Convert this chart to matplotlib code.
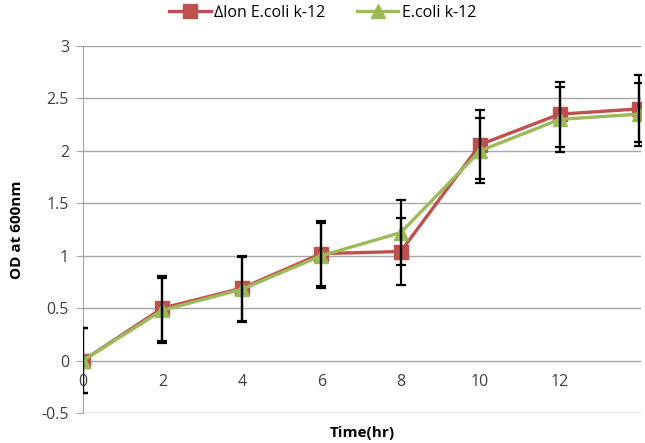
import matplotlib
matplotlib.use("Agg")
import matplotlib.pyplot as plt

plt.rcParams['font.family'] = ['Open Sans', 'DejaVu Sans']

# data
hours = [0, 2, 4, 6, 8, 10, 12, 14]
lon_od = [0.0, 0.50, 0.69, 1.02, 1.04, 2.06, 2.35, 2.40]
lon_err = [0.31, 0.31, 0.31, 0.31, 0.32, 0.33, 0.31, 0.32]
wt_od = [0.0, 0.48, 0.68, 1.00, 1.22, 2.00, 2.30, 2.35]
wt_err = [0.31, 0.31, 0.31, 0.31, 0.31, 0.31, 0.31, 0.30]
xtick_labels = ['0', '2', '4', '6', '8', '10', '12']
yticks = [-0.5, 0, 0.5, 1, 1.5, 2, 2.5, 3]

red = '#C0504D'
green = '#9BBB59'

fig = plt.figure(figsize=(6.45, 4.43), dpi=100)
ax = fig.add_axes([83/645, 1-413/443, (641-83)/645, (413-46)/443])

ax.plot(hours, lon_od, color=red, lw=2.4, marker='s', ms=10, label='\u2206lon E.coli k-12', zorder=3)
ax.plot(hours, wt_od, color=green, lw=2.4, marker='^', ms=10, label='E.coli k-12', zorder=4)
ax.errorbar(hours, lon_od, yerr=lon_err, fmt='none', ecolor='black', elinewidth=1.6, capsize=3.5, capthick=1.6, zorder=5)
ax.errorbar(hours, wt_od, yerr=wt_err, fmt='none', ecolor='black', elinewidth=1.6, capsize=3.5, capthick=1.6, zorder=5)

ax.set_xlim(0, 14.05)
ax.set_ylim(-0.5, 3)
ax.set_yticks(yticks)
ax.set_yticklabels(['-0.5', '0', '0.5', '1', '1.5', '2', '2.5', '3'])
ax.set_xticks(hours[:-1])
ax.set_xticklabels(xtick_labels)
ax.yaxis.grid(True, color='#A6A6A6', lw=1)
ax.set_axisbelow(True)

for s in ['top', 'right']:
    ax.spines[s].set_visible(False)
ax.spines['bottom'].set_position(('data', 0))
ax.spines['bottom'].set_visible(False)
ax.spines['left'].set_color('#A6A6A6')
ax.tick_params(axis='x', length=0, pad=10, labelsize=11.5, colors='#404040')
ax.tick_params(axis='y', length=5, color='#A6A6A6', labelsize=11.5, labelcolor='#404040', pad=5)

ax.set_xlabel('Time(hr)', fontsize=11, fontweight='bold')
ax.xaxis.set_label_coords(0.5, -0.035)
ax.set_ylabel('OD at 600nm', fontsize=11, fontweight='bold')
ax.yaxis.set_label_coords(-0.105, 0.5)

fig.legend(loc='center', bbox_to_anchor=(0.5, 1-13/443), ncol=2, frameon=False,
           fontsize=11.5, handlelength=2.6, columnspacing=2.0, handletextpad=0.2)

fig.savefig('out.png', dpi=100)
